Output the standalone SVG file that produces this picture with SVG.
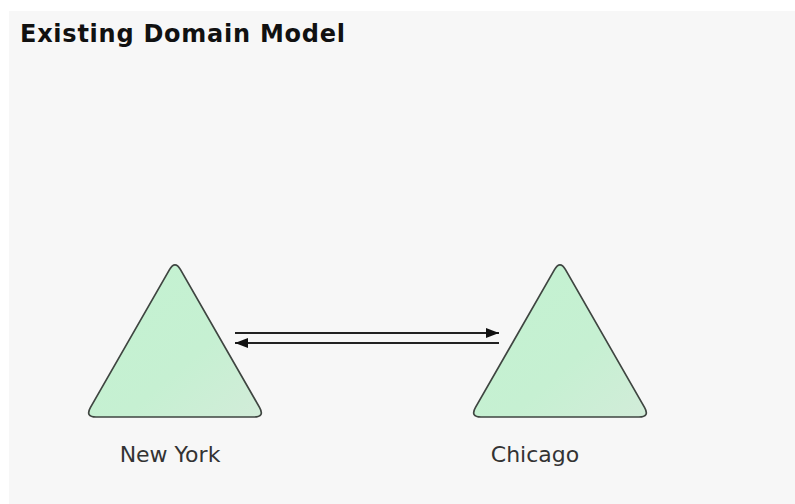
<svg xmlns="http://www.w3.org/2000/svg" width="795" height="504" viewBox="0 0 795 504">
<defs>
<linearGradient id="g" x1="0" y1="0" x2="1" y2="1">
<stop offset="0" stop-color="#c3f2d1"/>
<stop offset="0.6" stop-color="#c6f0d2"/>
<stop offset="1" stop-color="#d2ecd9"/>
</linearGradient>
<marker id="ah" markerUnits="userSpaceOnUse" markerWidth="14" markerHeight="12" refX="13" refY="6" orient="auto">
<path d="M0,1 L13,6 L0,11 Z" fill="#111"/>
</marker>
</defs>
<style>
.tri{fill:url(#g);stroke:#3f4541;stroke-width:1.7}
.lbl{font-family:"DejaVu Sans",Verdana,sans-serif;font-size:22px;fill:#333;text-anchor:middle}
.title{font-family:"DejaVu Sans",Verdana,sans-serif;font-size:24px;font-weight:bold;fill:#111}
.conn{stroke:#222;stroke-width:2;fill:none;marker-end:url(#ah)}
</style>
<rect x="0" y="0" width="795" height="504" fill="#ffffff"/>
<rect x="9" y="11" width="786" height="493" fill="#f7f7f7"/>
<text class="title" x="20" y="42" textLength="325" lengthAdjust="spacing">Existing Domain Model</text>
<g id="connectors">
<line class="conn" x1="235" y1="333" x2="499" y2="333"/>
<line class="conn" x1="499" y1="343" x2="235" y2="343"/>
</g>
<g id="new-york">
<path class="tri" d="M169.5,269.7 Q175,260 180.5,269.7 L259.5,407.4 Q265,417 254,417 L96,417 Q85,417 90.5,407.4 Z"/>
<text class="lbl" x="170" y="462">New York</text>
</g>
<g id="chicago">
<path class="tri" d="M554.5,269.7 Q560,260 565.5,269.7 L644.5,407.4 Q650,417 639,417 L481,417 Q470,417 475.5,407.4 Z"/>
<text class="lbl" x="535" y="462">Chicago</text>
</g>
</svg>
